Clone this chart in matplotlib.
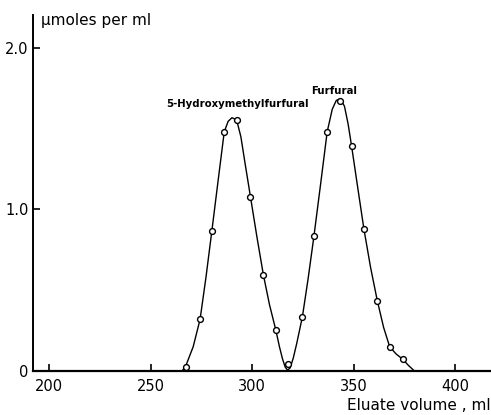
import matplotlib.pyplot as plt

# measured points (eluate volume in ml, umoles per ml)
point_ml = [267.3, 274.4, 280.2, 286.3, 292.4, 299.2, 305.6, 311.7, 317.7,
            324.8, 330.5, 337.0, 343.4, 349.0, 355.1, 361.7, 367.8, 374.3]
point_conc = [0.027, 0.32, 0.867, 1.48, 1.554, 1.08, 0.594, 0.254, 0.043,
              0.336, 0.836, 1.48, 1.674, 1.395, 0.879, 0.435, 0.15, 0.072]

# hand-drawn curve
curve_ml = [192, 265.5, 267.3, 271, 274.4, 277.3, 280.2, 283.3, 286.3, 288.2,
            290.1, 292.4, 294.5, 296.5, 299.2, 302.4, 305.6, 308.6, 311.7, 313.5,
            315, 316.3, 317.5, 318.8, 320.3, 322, 324.8, 327.6, 330.5, 333.8,
            337, 339.5, 341.5, 343.4, 345.5, 347.3, 349, 352, 355.1, 358.4,
            361.7, 364.8, 367.8, 371, 374.3, 377, 380]
curve_conc = [0, 0, 0.03, 0.15, 0.32, 0.58, 0.867, 1.18, 1.48, 1.545,
              1.568, 1.554, 1.45, 1.29, 1.08, 0.83, 0.594, 0.41, 0.254, 0.15,
              0.075, 0.025, 0.005, 0.02, 0.08, 0.17, 0.336, 0.57, 0.836, 1.16,
              1.48, 1.62, 1.675, 1.684, 1.64, 1.53, 1.395, 1.14, 0.879, 0.64,
              0.435, 0.27, 0.15, 0.105, 0.072, 0.035, 0.0]

x_ticks = [200, 250, 300, 350, 400]
y_ticks = [0, 1.0, 2.0]
y_tick_labels = ['0', '1.0', '2.0']

fig = plt.figure(figsize=(4.91, 4.15), dpi=100)
ax = fig.add_axes([0.0672, 0.106, 0.9328, 0.858])

ax.plot(curve_ml, curve_conc, color='black', lw=1.0, zorder=2)
ax.plot(point_ml, point_conc, 'o', ms=4.2, mfc='white', mec='black', mew=1.0, zorder=3)

ax.set_xlim(192.1, 417.7)
ax.set_ylim(0, 2.204)
ax.spines['top'].set_visible(False)
ax.spines['right'].set_visible(False)
ax.spines['left'].set_linewidth(1.4)
ax.spines['bottom'].set_linewidth(1.6)
ax.set_xticks(x_ticks)
ax.set_yticks(y_ticks)
ax.set_yticklabels(y_tick_labels)
ax.tick_params(axis='x', direction='in', length=5, width=1.2, labelsize=10.5, pad=6)
ax.tick_params(axis='y', direction='in', length=5, width=1.2, labelsize=10.5, pad=3)

ax.text(0.018, 0.985, 'µmoles per ml', transform=ax.transAxes, fontsize=11,
        ha='left', va='center')
fig.text(1.0, 0.022, 'Eluate volume , ml', fontsize=11, ha='right', va='center')

ax.text(293, 1.635, '5-Hydroxymethylfurfural', fontsize=7.3, fontweight='bold',
        ha='center', va='baseline')
ax.text(340.5, 1.715, 'Furfural', fontsize=7.3, fontweight='bold', ha='center', va='baseline')

fig.savefig('out.png', dpi=100)
